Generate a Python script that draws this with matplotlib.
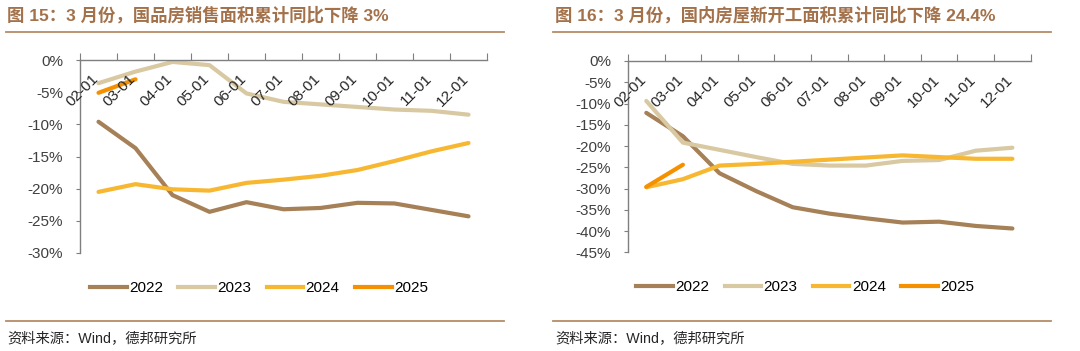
import matplotlib
matplotlib.use("Agg")
import matplotlib.pyplot as plt
from matplotlib.lines import Line2D

# data (cumulative YoY, %)
months = ["02-01", "03-01", "04-01", "05-01", "06-01", "07-01",
          "08-01", "09-01", "10-01", "11-01", "12-01"]
years = ["2022", "2023", "2024", "2025"]

sales_2022 = [-9.6, -13.7, -21.0, -23.6, -22.1, -23.2, -23.0, -22.2, -22.3, -23.3, -24.3]
sales_2023 = [-3.6, -1.8, -0.3, -0.8, -5.2, -6.5, -6.9, -7.3, -7.7, -7.9, -8.5]
sales_2024 = [-20.5, -19.3, -20.1, -20.3, -19.1, -18.6, -18.0, -17.1, -15.7, -14.2, -12.9]
sales_2025 = [-5.1, -3.0]

starts_2022 = [-12.2, -17.7, -26.4, -30.6, -34.4, -35.9, -37.0, -38.0, -37.8, -38.8, -39.4]
starts_2023 = [-9.4, -19.2, -20.9, -22.6, -24.2, -24.6, -24.6, -23.5, -23.3, -21.1, -20.4]
starts_2024 = [-29.7, -27.8, -24.6, -24.2, -23.7, -23.2, -22.7, -22.2, -22.6, -23.0, -23.0]
starts_2025 = [-29.6, -24.4]

colors = ["#A68057", "#D9C9A3", "#F7B731", "#F59100"]
title_color = "#A3714A"
rule_color = "#B48C68"
axis_color = "#7F7F7F"

fam = ["Liberation Sans", "Noto Sans CJK SC"]
plt.rcParams["font.family"] = fam

fig = plt.figure(figsize=(10.8, 3.51), dpi=100)


def panel(rect, series, ymin, title, tx, line_x):
    ax = fig.add_axes(rect)
    x = list(range(len(months)))
    for s, c in zip(series, colors):
        ax.plot(x[:len(s)], s, color=c, lw=3, solid_capstyle="round")
    ax.set_xlim(-0.5, len(months) - 0.5)
    ax.set_ylim(ymin, 0)
    ax.set_yticks(range(ymin, 1, 5))
    ax.set_yticklabels([f"{v}%" for v in range(ymin, 1, 5)])
    for sp in ["bottom", "right"]:
        ax.spines[sp].set_visible(False)
    for sp in ["top", "left"]:
        ax.spines[sp].set_color(axis_color)
        ax.spines[sp].set_linewidth(1)
    ax.xaxis.set_ticks_position("top")
    ax.set_xticks([i - 0.5 for i in range(len(months) + 1)])
    ax.set_xticklabels([])
    ax.tick_params(axis="x", direction="out", length=5, color=axis_color)
    ax.tick_params(axis="y", direction="out", length=3, color=axis_color,
                   labelsize=11, labelcolor="#404040", pad=9)
    for i, m in enumerate(months):
        ax.text(i + 0.08, 0.94, m, transform=ax.get_xaxis_transform(),
                rotation=45, ha="right", va="top", fontsize=11, color="#262626")
    handles = [Line2D([], [], color=c, lw=3) for c in colors]
    ax.legend(handles, years, ncol=4, frameon=False, loc="upper center",
              bbox_to_anchor=(0.44, -0.075), fontsize=11, handlelength=2.4,
              handletextpad=0.15, columnspacing=1.0)
    fig.text(tx, 1 - 15 / 351, title, fontsize=12.5, fontweight="bold",
             color=title_color, va="center", ha="left")
    fig.add_artist(Line2D(line_x, [1 - 32 / 351] * 2, color=rule_color, lw=1.3))
    fig.add_artist(Line2D(line_x, [1 - 321 / 351] * 2, color=rule_color, lw=1.3))
    fig.text(tx, 1 - 338 / 351, "资料来源：Wind，德邦研究所", fontsize=10.3,
             color="#262626", va="center", ha="left")
    return ax


panel([80 / 1080, 98 / 351, 407 / 1080, 193 / 351],
      [sales_2022, sales_2023, sales_2024, sales_2025], -30,
      "图 15：3 月份，国品房销售面积累计同比下降 3%", 7 / 1080,
      [6 / 1080, 504 / 1080])
panel([628 / 1080, 98.7 / 351, 402.7 / 1080, 191.3 / 351],
      [starts_2022, starts_2023, starts_2024, starts_2025], -45,
      "图 16：3 月份，国内房屋新开工面积累计同比下降 24.4%", 555 / 1080,
      [553 / 1080, 1051 / 1080])

fig.savefig("out.png", dpi=100)
